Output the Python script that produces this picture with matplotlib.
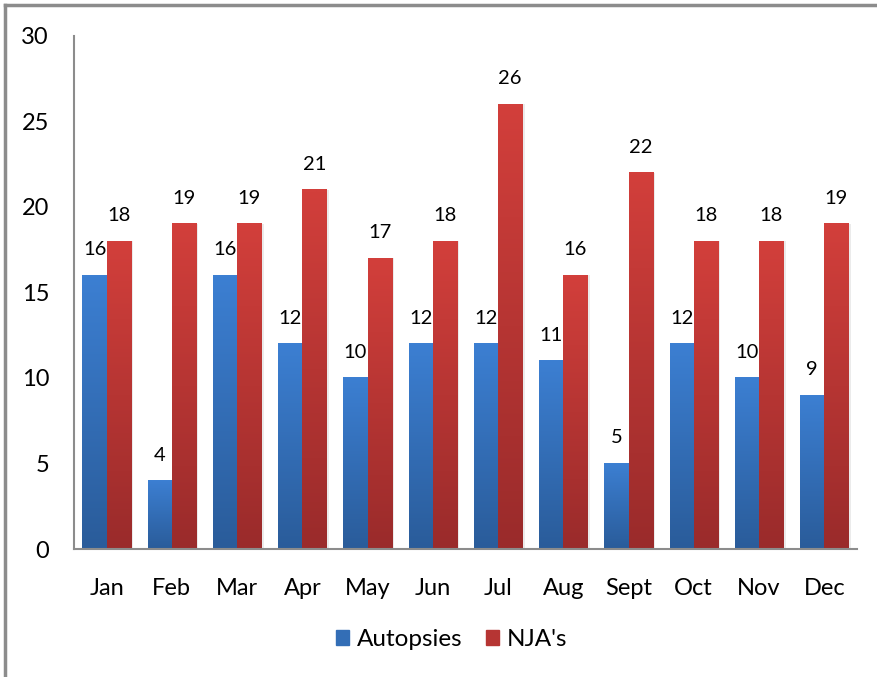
import matplotlib.pyplot as plt
import numpy as np
from matplotlib.patches import Patch, Rectangle

months = ['Jan', 'Feb', 'Mar', 'Apr', 'May', 'Jun', 'Jul', 'Aug', 'Sept', 'Oct', 'Nov', 'Dec']
autopsies = [16, 4, 16, 12, 10, 12, 12, 11, 5, 12, 10, 9]
njas = [18, 19, 19, 21, 17, 18, 26, 16, 22, 18, 18, 19]

plt.rcParams['font.family'] = ['Lato', 'DejaVu Sans']

blue_top, blue_bot = np.array([0x3C, 0x7F, 0xD2]) / 255, np.array([0x2A, 0x5C, 0x9A]) / 255
red_top, red_bot = np.array([0xD2, 0x3F, 0x3B]) / 255, np.array([0x9A, 0x2B, 0x2B]) / 255


def gradient_bar(ax, x, w, h, top, bot):
    # vertical gradient, lighter at the top
    t = np.linspace(0, 1, 64)[:, None]
    img = (top[None, None, :] * (1 - t[:, :, None]) + bot[None, None, :] * t[:, :, None])
    img = np.repeat(img, 2, axis=1)
    # soft shadow to the right
    ax.add_patch(Rectangle((x + w * 0.02, 0), w * 1.08, h, color='#000000', alpha=0.08, lw=0, zorder=1))
    ax.imshow(img, extent=[x, x + w, 0, h], aspect='auto', zorder=2, interpolation='bilinear')


fig = plt.figure(figsize=(8.77, 6.77), dpi=100)
ax = fig.add_axes([0.0844, 0.189, 0.8926, 0.758])

x = np.arange(len(months))
w = 0.37
for i in range(len(months)):
    gradient_bar(ax, x[i] - w, w, autopsies[i], blue_top, blue_bot)
    gradient_bar(ax, x[i], w, njas[i], red_top, red_bot)
    ax.text(x[i] - w / 2, autopsies[i] + 1.0, str(autopsies[i]), ha='center', va='bottom', fontsize=14.5)
    ax.text(x[i] + w / 2, njas[i] + 1.0, str(njas[i]), ha='center', va='bottom', fontsize=14.5)

ax.set_xlim(-0.5, len(months) - 0.5)
ax.set_ylim(0, 30)
ax.set_yticks(range(0, 31, 5))
ax.set_xticks(x)
ax.set_xticklabels(months)
ax.tick_params(axis='both', length=0, labelsize=17)
ax.tick_params(axis='y', pad=18)
ax.tick_params(axis='x', pad=21)
for s in ['top', 'right']:
    ax.spines[s].set_visible(False)
for s in ['left', 'bottom']:
    ax.spines[s].set_color('#8C8C8C')
    ax.spines[s].set_linewidth(1.5)

handles = [Patch(color=(blue_top + blue_bot) / 2, label='Autopsies'),
           Patch(color=(red_top + red_bot) / 2, label="NJA's")]
fig.legend(handles=handles, loc='center', bbox_to_anchor=(0.515, 0.055), ncol=2, frameon=False,
           fontsize=17.5, handlelength=0.55, handleheight=0.55, handletextpad=0.33, columnspacing=0.95)

# chart border (left and top edges visible)
fig.add_artist(plt.Line2D([0.006, 0.006], [0, 0.993], color='#8C8C8C', lw=2.5, transform=fig.transFigure))
fig.add_artist(plt.Line2D([0.006, 1], [0.993, 0.993], color='#8C8C8C', lw=2.5, transform=fig.transFigure))

fig.savefig('out.png', dpi=100)
